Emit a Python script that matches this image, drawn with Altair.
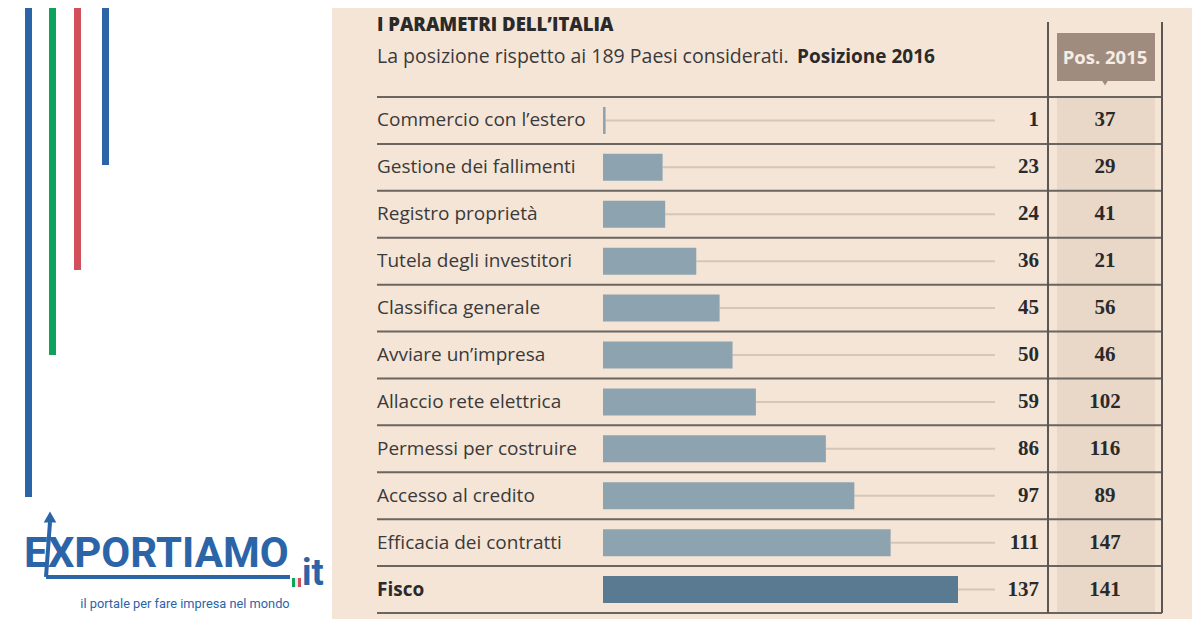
import altair as alt
import pandas as pd

# ---- data ----
categories = ["Commercio con l’estero", "Gestione dei fallimenti", "Registro proprietà",
              "Tutela degli investitori", "Classifica generale", "Avviare un’impresa",
              "Allaccio rete elettrica", "Permessi per costruire", "Accesso al credito",
              "Efficacia dei contratti", "Fisco"]
pos_2016 = [1, 23, 24, 36, 45, 50, 59, 86, 97, 111, 137]
pos_2015 = [37, 29, 41, 21, 56, 46, 102, 116, 89, 147, 141]

title_text = "I PARAMETRI DELL’ITALIA"
subtitle_text = "La posizione rispetto ai 189 Paesi considerati."
subtitle_bold = "Posizione 2016"
header_2015 = "Pos. 2015"
logo_text = "EXPORTIAMO"
logo_tld = "it"
tagline = "il portale per fare impresa nel mondo"

df = pd.DataFrame({"cat": categories, "v2016": pos_2016, "v2015": pos_2015})

W, H = 1184, 611
BEIGE = "#f5e5d7"
SHADE = "#e9d7c8"
LINE = "#6a655f"
BAR = "#8da3b0"
BAR_HI = "#5a7a92"
BLUE = "#2c64a8"
SANS = "Open Sans"
LOGO = "Roboto"
SERIF = "Liberation Serif"

def P(v):  # page pixel -> chart pixel
    return v - 8

one = alt.Data(values=[{"d": 0}])

xs = alt.Scale(domain=[0, 137], range=[P(603), P(958)], nice=False, zero=True)
ys = alt.Scale(domain=categories, range=[P(97), P(613)], paddingInner=0, paddingOuter=0)
X = lambda f: alt.X(f, type="quantitative", scale=xs, axis=None)
Y = lambda **k: alt.Y("cat:N", scale=ys, sort=None, axis=None, **k)

def rect(x1, x2, y1, y2, color):
    return alt.Chart(one).mark_rect(color=color).encode(
        x=alt.value(P(x1)), x2=alt.value(P(x2)), y=alt.value(P(y1)), y2=alt.value(P(y2)))

def rule(x1, x2, y1, y2, color, w):
    return alt.Chart(one).mark_rule(color=color, strokeWidth=w).encode(
        x=alt.value(P(x1)), x2=alt.value(P(x2)), y=alt.value(P(y1)), y2=alt.value(P(y2)))

def txt(s, x, y, size, color, weight="normal", font=SANS, align="left", baseline="alphabetic"):
    return alt.Chart(one).mark_text(text=s, fontSize=size, color=color, fontWeight=weight,
                                    font=font, align=align, baseline=baseline).encode(
        x=alt.value(P(x)), y=alt.value(P(y)))

layers = []
# panels
layers.append(rect(332, 1192, 8, 619, BEIGE))
# left decorative lines
layers.append(rect(25, 32, 8, 497, BLUE))
layers.append(rect(49, 56, 8, 355, "#0ea35c"))
layers.append(rect(74, 81, 8, 270, "#d1505a"))
layers.append(rect(102, 109, 8, 165, BLUE))
# logo
layers.append(txt(logo_text, 24, 567, 42, BLUE, "bold", LOGO))
layers.append(rule(46, 290, 577, 577, BLUE, 4))
layers.append(rule(46, 50, 577, 522, BLUE, 4))
layers.append(alt.Chart(one).mark_point(shape="triangle-up", filled=True, color=BLUE, size=160, opacity=1)
              .encode(x=alt.value(P(50)), y=alt.value(P(517))))
layers.append(rect(292, 295, 578, 587, "#0ea35c"))
layers.append(rect(295, 298, 578, 587, "#e8e8e8"))
layers.append(rect(298, 301, 578, 587, "#d1505a"))
layers.append(txt(logo_tld, 302, 585, 36, BLUE, "bold", LOGO))
layers.append(txt(tagline, 185, 608, 12.8, BLUE, "normal", LOGO, align="center"))

# 2015 column shading + header
layers.append(rect(1057, 1155, 97, 613, SHADE))
layers.append(rect(1057, 1155, 33, 81, "#a08c7e"))
layers.append(alt.Chart(one).mark_point(shape="triangle-down", filled=True, color="#a08c7e", size=70, opacity=1)
              .encode(x=alt.value(P(1105)), y=alt.value(P(82))))
layers.append(txt(header_2015, 1105, 58, 18.5, "#f5ede5", "bold", align="center", baseline="middle"))

# titles
layers.append(txt(title_text, 377, 31, 18.5, "#2a2a2a", 800))
layers.append(txt(subtitle_text, 377, 63, 19.5, "#3a3a3a"))
layers.append(txt(subtitle_bold, 797, 63, 19, "#2a2a2a", "bold"))

base = alt.Chart(df)
# row separators
layers.append(base.mark_rule(color=LINE, strokeWidth=2).encode(
    y=Y(bandPosition=0), x=alt.value(P(377)), x2=alt.value(P(1162))))
layers.append(rule(377, 1162, 613, 613, LINE, 2))
# vertical lines
layers.append(rule(1048, 1048, 22, 613, "#5b5651", 2))
layers.append(rule(1162, 1162, 22, 613, "#5b5651", 2))
# leader lines
layers.append(base.mark_rule(color="#d6c6b8", strokeWidth=2).encode(
    x=X("v2016"), x2=alt.value(P(995)), y=Y()))
# bars
layers.append(base.mark_bar(size=27).encode(
    x=X("v2016"), y=Y(),
    color=alt.condition(alt.datum.cat == "Fisco", alt.value(BAR_HI), alt.value(BAR))))
# category labels
layers.append(base.transform_filter(alt.datum.cat != "Fisco").mark_text(
    align="left", baseline="middle", fontSize=19, font=SANS, color="#3a3a3a").encode(
    text="cat:N", y=Y(), x=alt.value(P(377))))
layers.append(base.transform_filter(alt.datum.cat == "Fisco").mark_text(
    align="left", baseline="middle", fontSize=19, font=SANS, color="#2a2a2a", fontWeight="bold").encode(
    text="cat:N", y=Y(), x=alt.value(P(377))))
# values
layers.append(base.mark_text(align="right", baseline="middle", fontSize=21, font=SERIF, fontWeight="bold",
                             color="#2a2a2a").encode(text="v2016:Q", y=Y(), x=alt.value(P(1039))))
layers.append(base.mark_text(align="center", baseline="middle", fontSize=21, font=SERIF, fontWeight="bold",
                             color="#2a2a2a").encode(text="v2015:Q", y=Y(), x=alt.value(P(1105))))

chart = alt.layer(*layers).properties(
    width=W, height=H, autosize=alt.AutoSizeParams(type="none"), padding=0, background="#ffffff"
).configure_view(stroke=None)

chart.save("out.html", embed_options={"renderer": "svg", "actions": False})
